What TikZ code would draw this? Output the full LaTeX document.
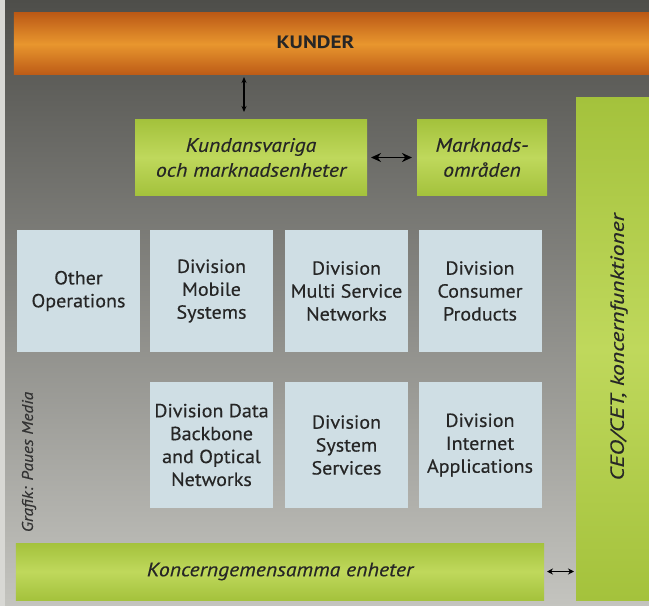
\documentclass[tikz,border=0pt]{standalone}
\usepackage{fontspec}
\setmainfont{PT Sans}
\newfontfamily\divfont[FakeStretch=1.06,FakeBold=0.35]{PT Sans}
\newfontfamily\grfont[FakeStretch=1.12,FakeBold=0.35]{PT Sans}
\newfontfamily\widefont[FakeStretch=1.25,FakeBold=0.35]{PT Sans}
\newfontfamily\kfont[FakeStretch=1.18]{PT Sans}
\usetikzlibrary{arrows.meta,shadings,calc}
\definecolor{bgtop}{HTML}{4E4E4A}
\definecolor{bgbot}{HTML}{C4C4BF}
\definecolor{paper}{HTML}{D8D8D4}
\definecolor{orA}{HTML}{BC5A16}
\definecolor{orB}{HTML}{E8962E}
\definecolor{grA}{HTML}{A4C23C}
\definecolor{grB}{HTML}{BFD85C}
\definecolor{blueb}{HTML}{CFDEE4}
\tikzset{
  bar/.style={rectangle, inner sep=0pt, outer sep=0pt},
  orangebar/.style={bar, top color=orA, bottom color=orA, middle color=orB},
  greenbox/.style={bar, top color=grA, bottom color=grA, middle color=grB, align=center,
    font=\grfont\fontsize{19.5}{25}\selectfont\itshape, text=black!85},
  divbox/.style={bar, fill=blueb, align=center, font=\divfont\fontsize{19}{23}\selectfont,
    minimum width=123bp, text=black!85},
  dbl/.style={line width=1.3bp, black}
}
\begin{document}
\begin{tikzpicture}[x=1bp,y=-1bp]
\useasboundingbox (0,0) rectangle (649,606);
\shade[top color=bgtop, bottom color=bgbot] (0,0) rectangle (649,606);
\fill[paper] (0,0) rectangle (5,606);
% KUNDER bar
\node[orangebar, minimum width=635bp, minimum height=62bp,
  label={[xshift=-16bp, yshift=1.5bp, text=black!85, font=\kfont\fontsize{18}{20}\selectfont\bfseries]center:KUNDER}]
  (kunder) at (331.5,44) {};
% right bar
\node[greenbox, minimum width=73bp, minimum height=502bp] (ceo) at (612.5,349) {};
\node[rotate=90, text=black!85, font=\widefont\fontsize{19}{20}\selectfont\itshape] (ceotext) at (619,347) {CEO/CET, koncernfunktioner};
% green boxes
\node[greenbox, minimum width=232bp, minimum height=75bp] (k1) at (251,157.5)
  {Kundansvariga\\och marknadsenheter};
\node[greenbox, minimum width=130bp, minimum height=75bp] (k2) at (482,157.5)
  {Marknads-\\områden};
% division row 1
\node[divbox, minimum height=122bp] (oth) at (78.5,291) {Other\\Operations};
\node[divbox, minimum height=122bp] (mob) at (211.5,291) {Division\\Mobile\\Systems};
\node[divbox, minimum height=122bp] (msn) at (346.5,291) {Division\\Multi Service\\Networks};
\node[divbox, minimum height=122bp] (con) at (480,291) {Division\\Consumer\\Products};
% division row 2
\node[divbox, minimum height=126bp] (dbo) at (211.5,445) {Division Data\\Backbone\\and Optical\\Networks};
\node[divbox, minimum height=126bp] (sys) at (346.5,445) {Division\\System\\Services};
\node[divbox, minimum height=126bp] (int) at (480,445) {Division\\Internet\\Applications};
% bottom bar
\node[greenbox, minimum width=528bp, minimum height=57bp] (kon) at (280,571.5)
  {Koncerngemensamma enheter};
% credit
\node[rotate=90, text=black!80, font=\grfont\fontsize{15.5}{17}\selectfont\itshape] (credit) at (29,462) {Grafik: Paues Media};
% arrows
\draw[dbl, {Stealth[length=6bp,width=5bp]}-{Stealth[length=6bp,width=5bp]}, line width=1.1bp, shorten <=2bp, shorten >=8bp] ([xshift=-7bp]k1.north |- kunder.south) -- ([xshift=-7bp]k1.north);
\draw[dbl, {Stealth[length=10bp,width=9bp]}-{Stealth[length=10bp,width=9bp]}, line width=1.8bp, shorten <=4bp, shorten >=5bp] (k1.east) -- (k2.west);
\draw[dbl, {Stealth[length=6bp,width=6bp]}-{Stealth[length=6bp,width=6bp]}, line width=1.2bp, shorten <=3bp, shorten >=2bp] (kon.east) -- (kon.east -| ceo.west);
\end{tikzpicture}
\end{document}
